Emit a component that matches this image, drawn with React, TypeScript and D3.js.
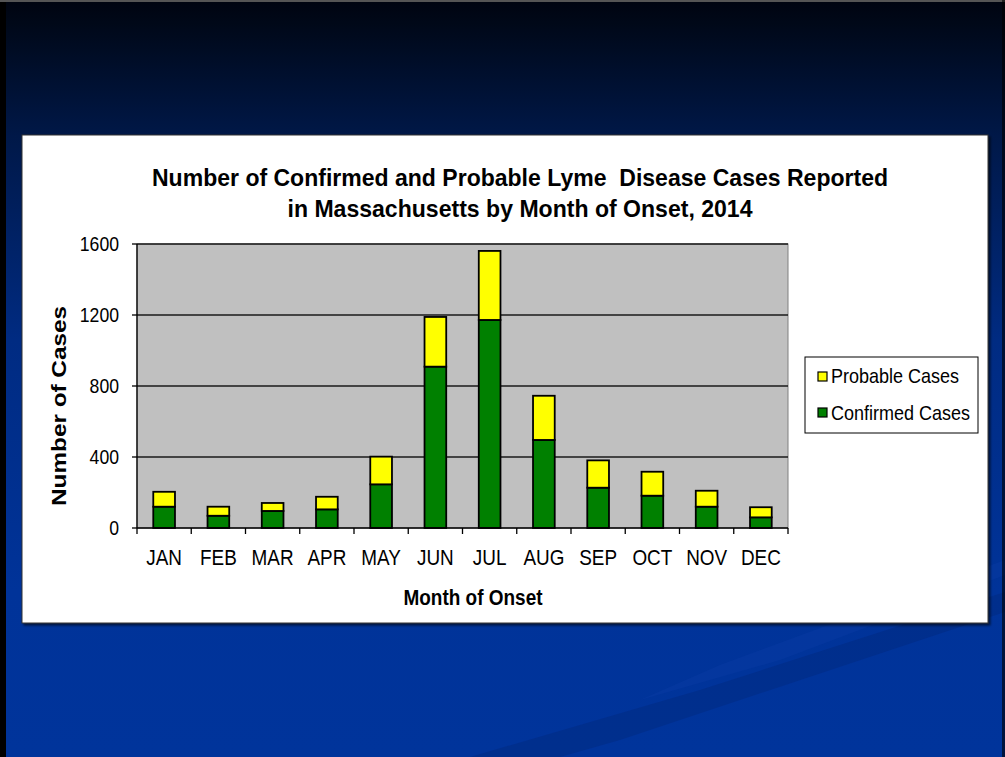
import React from 'react';
import * as d3 from 'd3';

// values (cases by month of onset)
const months = ['JAN', 'FEB', 'MAR', 'APR', 'MAY', 'JUN', 'JUL', 'AUG', 'SEP', 'OCT', 'NOV', 'DEC'];
const confirmedCases = [120, 69, 96, 105, 246, 909, 1172, 496, 227, 182, 120, 60];
const probableCases = [84, 51, 45, 71, 156, 280, 389, 249, 154, 135, 90, 57];
const yTicks = [0, 400, 800, 1200, 1600];

const titleLines = [
    'Number of Confirmed and Probable Lyme  Disease Cases Reported',
    'in Massachusetts by Month of Onset, 2014',
];

const FONT = '"Liberation Sans", Arial, sans-serif';
const SQUEEZE = 0.86; // the slide text is horizontally condensed

const App: React.FC = () => {
    const width = 1005;
    const height = 757;
    const plot = { left: 137, right: 788, top: 244, bottom: 528 };

    const xScale = d3.scaleBand<string>()
        .domain(months)
        .range([plot.left, plot.right])
        .paddingInner(0.6)
        .paddingOuter(0.3);

    const yScale = d3.scaleLinear()
        .domain([0, 1600])
        .range([plot.bottom, plot.top]);

    const step = xScale.step();
    const bw = xScale.bandwidth();

    const rows = months.map((m, i) => ({ month: m, confirmed: confirmedCases[i], probable: probableCases[i] }));
    const stacked = d3.stack<any>().keys(['confirmed', 'probable'])(rows);
    const fills: Record<string, string> = { confirmed: '#008000', probable: '#FFFF00' };

    const legendItems = [
        { key: 'probable', label: 'Probable Cases' },
        { key: 'confirmed', label: 'Confirmed Cases' },
    ];

    return (
        <svg width={width} height={height} style={{ position: 'absolute', left: 0, top: 0 }}>
            <defs>
                <linearGradient id="bg" x1="0" y1="0" x2="0" y2="1">
                    <stop offset="0" stopColor="#000410" />
                    <stop offset="0.03" stopColor="#000818" />
                    <stop offset="0.18" stopColor="#001848" />
                    <stop offset="0.45" stopColor="#002b82" />
                    <stop offset="0.78" stopColor="#003399" />
                    <stop offset="1" stopColor="#00349b" />
                </linearGradient>
                <filter id="shadow" x="-5%" y="-5%" width="110%" height="110%">
                    <feDropShadow dx="2" dy="2" stdDeviation="1.2" floodColor="#000" floodOpacity="0.6" />
                </filter>
            </defs>

            {/* slide background */}
            <rect x={0} y={0} width={width} height={height} fill="url(#bg)" />
            <path d="M1005,592 L1005,612 L620,740 L560,757 L470,757 L700,690 Z" fill="#002a80" opacity={0.5} />
            <path d="M1005,560 L1005,575 L780,660 L640,700 L720,665 Z" fill="#0a3ca4" opacity={0.4} />
            <rect x={0} y={0} width={6} height={height} fill="#000" />
            <rect x={0} y={0} width={width} height={2} fill="#555" />
            <rect x={1002} y={0} width={3} height={height} fill="#000" opacity={0.6} />

            {/* white chart panel */}
            <rect x={22} y={135} width={966} height={488} fill="#fff" stroke="#333" strokeWidth={1} filter="url(#shadow)" />

            {/* title */}
            {titleLines.map((t, i) => (
                <text
                    key={i}
                    x={520}
                    y={186 + i * 31}
                    textAnchor="middle"
                    fontFamily={FONT}
                    fontWeight="bold"
                    fontSize={24}
                    textLength={i === 0 ? 736 : 465}
                    lengthAdjust="spacingAndGlyphs"
                    fill="#000"
                    style={{ whiteSpace: 'pre' }}
                >
                    {t}
                </text>
            ))}

            {/* plot area */}
            <rect x={plot.left} y={plot.top} width={plot.right - plot.left} height={plot.bottom - plot.top} fill="#C0C0C0" stroke="#808080" strokeWidth={1} />

            {yTicks.filter(v => v > 0).map(v => (
                <line key={v} x1={plot.left} x2={plot.right} y1={yScale(v)} y2={yScale(v)} stroke="#1a1a1a" strokeWidth={1.3} />
            ))}

            {/* stacked bars */}
            {stacked.map(layer => (
                <g key={layer.key}>
                    {layer.map((d, i) => (
                        <rect
                            key={i}
                            x={xScale(months[i])!}
                            y={yScale(d[1])}
                            width={bw}
                            height={yScale(d[0]) - yScale(d[1])}
                            fill={fills[layer.key]}
                            stroke="#000"
                            strokeWidth={1.8}
                        />
                    ))}
                </g>
            ))}

            {/* y axis */}
            <line x1={plot.left} x2={plot.left} y1={plot.top} y2={plot.bottom} stroke="#000" strokeWidth={1.3} />
            {yTicks.map(v => (
                <g key={v}>
                    <line x1={plot.left - 5} x2={plot.left} y1={yScale(v)} y2={yScale(v)} stroke="#000" strokeWidth={1.3} />
                    <text
                        transform={`translate(119,${yScale(v) + 7}) scale(${SQUEEZE},1)`}
                        textAnchor="end"
                        fontFamily={FONT}
                        fontSize={20.5}
                        fill="#000"
                    >
                        {v}
                    </text>
                </g>
            ))}

            {/* x axis */}
            <line x1={plot.left} x2={plot.right} y1={plot.bottom} y2={plot.bottom} stroke="#000" strokeWidth={1.3} />
            {d3.range(months.length + 1).map(i => {
                const x = plot.left + i * step;
                return <line key={i} x1={x} x2={x} y1={plot.bottom} y2={plot.bottom + 6} stroke="#000" strokeWidth={1.3} />;
            })}
            {months.map(m => (
                <text
                    key={m}
                    transform={`translate(${xScale(m)! + bw / 2},565) scale(${SQUEEZE},1)`}
                    textAnchor="middle"
                    fontFamily={FONT}
                    fontSize={22}
                    fill="#000"
                >
                    {m}
                </text>
            ))}

            {/* axis titles */}
            <text x={473} y={605} textAnchor="middle" fontFamily={FONT} fontWeight="bold" fontSize={22}
                textLength={139} lengthAdjust="spacingAndGlyphs" fill="#000">
                Month of Onset
            </text>
            <text transform="translate(66,406) rotate(-90)" textAnchor="middle" fontFamily={FONT} fontWeight="bold" fontSize={21}
                textLength={200} lengthAdjust="spacingAndGlyphs" fill="#000">
                Number of Cases
            </text>

            {/* legend */}
            <rect x={805} y={357} width={173} height={76} fill="#fff" stroke="#000" strokeWidth={1} />
            {legendItems.map((it, i) => (
                <g key={it.key}>
                    <rect x={818} y={372 + i * 36} width={9} height={9} fill={fills[it.key]} stroke="#000" strokeWidth={1.2} />
                    <text
                        transform={`translate(831,${383 + i * 37}) scale(0.9,1)`}
                        fontFamily={FONT}
                        fontSize={20}
                        fill="#000"
                    >
                        {it.label}
                    </text>
                </g>
            ))}
        </svg>
    );
};

export default App;
